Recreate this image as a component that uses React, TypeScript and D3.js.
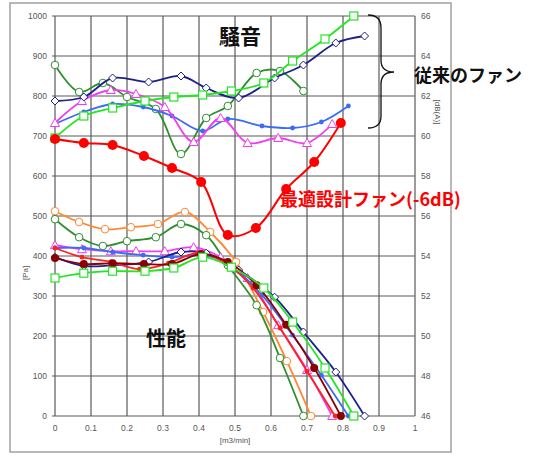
import { scaleLinear, line, curveCatmullRom, range } from 'd3'

// flow [m3/min] tick values
const xTicks = range(0, 11).map(i => i / 10)
const yTicksLeft = range(0, 11).map(i => i * 100)
const yTicksRight = range(46, 67, 2)

// --- noise series (dB(A), right axis) + matching performance (Pa) ---
const limeX = [0, 0.08, 0.16, 0.25, 0.33, 0.41, 0.49, 0.58, 0.66, 0.75, 0.83]
const limeNoise = [59.9, 61, 61.4, 61.75, 61.95, 62.05, 62.25, 62.65, 63.75, 64.85, 66]
const limePerf = [345, 357, 362, 362, 370, 397, 372, 320, 235, 120, 0]

const navyX = [0, 0.08, 0.16, 0.26, 0.35, 0.42, 0.51, 0.61, 0.69, 0.78, 0.86]
const navyNoise = [61.75, 61.95, 62.9, 62.7, 63, 62.4, 61.9, 62.9, 63.55, 64.65, 65]
const navyPerf = [397, 375, 377, 385, 410, 407, 365, 297, 210, 110, 0]

const magentaX = [0, 0.075, 0.155, 0.225, 0.305, 0.385, 0.46, 0.535, 0.62, 0.7, 0.77]
const magentaNoise = [60.65, 61.75, 62.3, 62.1, 61.45, 59.7, 60.9, 59.65, 59.9, 59.65, 60.6]
const magentaPerf = [427, 417, 412, 412, 412, 422, 397, 345, 227, 115, 0]

const blueX = [0, 0.08, 0.16, 0.245, 0.325, 0.41, 0.48, 0.575, 0.66, 0.74, 0.815]
const blueNoise = [60.6, 61.2, 61.6, 61.45, 61.0, 60.25, 60.85, 60.5, 60.4, 60.7, 61.5]
const bluePerf = [420, 420, 410, 402, 397, 402, 382, 302, 202, 102, 0]

const greenX = [0, 0.067, 0.133, 0.2, 0.28, 0.35, 0.42, 0.48, 0.56, 0.625, 0.69]
const greenNoise = [63.55, 62.2, 62.65, 61.95, 61.35, 59.1, 60.9, 61.5, 63.15, 63.25, 62.25]
const greenPerf = [492, 447, 425, 437, 447, 480, 452, 377, 277, 145, 0]

const redX = [0, 0.08, 0.16, 0.247, 0.325, 0.406, 0.48, 0.558, 0.642, 0.72, 0.794]
const redNoise = [59.85, 59.65, 59.55, 59, 58.4, 57.7, 55.05, 55.4, 57.35, 58.7, 60.65]

// --- performance-only series (Pa, left axis) ---
const orangeX = [0, 0.067, 0.139, 0.211, 0.286, 0.361, 0.431, 0.503, 0.578, 0.644, 0.711]
const orangePerf = [512, 485, 467, 472, 480, 510, 460, 385, 260, 137, 0]

const maroonX = [0, 0.08, 0.16, 0.247, 0.325, 0.406, 0.48, 0.56, 0.642, 0.72, 0.794]
const maroonPerf = [395, 380, 382, 380, 380, 405, 385, 327, 228, 120, 0]

const redPerfX = [0, 0.075, 0.155, 0.235, 0.315, 0.395, 0.47, 0.55, 0.625, 0.7, 0.778]
const redPerf = [420, 397, 385, 367, 382, 407, 385, 320, 220, 112, 0]

type Marker = 'square' | 'diamond' | 'triangle' | 'circle' | 'dot' | 'bigdot'

interface Series {
  xs: number[]
  ys: number[]
  color: string
  marker: Marker
  axis: 'left' | 'right'
}

const noiseSeries: Series[] = [
  { xs: greenX, ys: greenNoise, color: '#2f8f2f', marker: 'circle', axis: 'right' },
  { xs: blueX, ys: blueNoise, color: '#3a6cf4', marker: 'dot', axis: 'right' },
  { xs: magentaX, ys: magentaNoise, color: '#f23cf2', marker: 'triangle', axis: 'right' },
  { xs: navyX, ys: navyNoise, color: '#1f1f8c', marker: 'diamond', axis: 'right' },
  { xs: limeX, ys: limeNoise, color: '#22e622', marker: 'square', axis: 'right' },
  { xs: redX, ys: redNoise, color: '#ff0000', marker: 'bigdot', axis: 'right' },
]

const perfSeries: Series[] = [
  { xs: orangeX, ys: orangePerf, color: '#ff8833', marker: 'circle', axis: 'left' },
  { xs: greenX, ys: greenPerf, color: '#2f8f2f', marker: 'circle', axis: 'left' },
  { xs: magentaX, ys: magentaPerf, color: '#f23cf2', marker: 'triangle', axis: 'left' },
  { xs: blueX, ys: bluePerf, color: '#3a6cf4', marker: 'dot', axis: 'left' },
  { xs: navyX, ys: navyPerf, color: '#1f1f8c', marker: 'diamond', axis: 'left' },
  { xs: redPerfX, ys: redPerf, color: '#ff2020', marker: 'dot', axis: 'left' },
  { xs: maroonX, ys: maroonPerf, color: '#8b0000', marker: 'dot', axis: 'left' },
  { xs: limeX, ys: limePerf, color: '#22e622', marker: 'square', axis: 'left' },
]

const tickFont = '"Liberation Sans", Arial, sans-serif'
const jpFont = '"Noto Sans CJK JP", "Noto Sans", sans-serif'

const MarkerShape = ({ kind, cx, cy, color }: { kind: Marker; cx: number; cy: number; color: string }) => {
  switch (kind) {
    case 'square':
      return <rect x={cx - 4} y={cy - 4} width={8} height={8} fill="white" stroke={color} strokeWidth={1.2} />
    case 'diamond':
      return <path d={`M${cx},${cy - 4}L${cx + 4},${cy}L${cx},${cy + 4}L${cx - 4},${cy}Z`} fill="white" stroke={color} strokeWidth={1} />
    case 'triangle':
      return <path d={`M${cx},${cy - 4.5}L${cx + 4.5},${cy + 3.5}L${cx - 4.5},${cy + 3.5}Z`} fill="white" stroke={color} strokeWidth={1} />
    case 'circle':
      return <circle cx={cx} cy={cy} r={3.8} fill="white" stroke={color} strokeWidth={1} />
    case 'bigdot':
      return <circle cx={cx} cy={cy} r={5} fill={color} />
    default:
      return <circle cx={cx} cy={cy} r={color === '#8b0000' ? 4 : 2.4} fill={color} />
  }
}

const App = () => {
  const width = 536
  const height = 455

  const xScale = scaleLinear().domain([0, 1]).range([55, 415])
  const yLeft = scaleLinear().domain([0, 1000]).range([416, 16])
  const yRight = scaleLinear().domain([46, 66]).range([416, 16])

  const drawSeries = (s: Series, key: string) => {
    const yScale = s.axis === 'left' ? yLeft : yRight
    const pts: [number, number][] = s.xs.map((x, i) => [xScale(x), yScale(s.ys[i])])
    const gen = line().curve(curveCatmullRom.alpha(0.5))
    return (
      <g key={key}>
        <path d={gen(pts) || ''} fill="none" stroke={s.color} strokeWidth={s.marker === 'bigdot' ? 2 : 1.8} />
        {pts.map((p, i) => (
          <MarkerShape key={i} kind={s.marker} cx={p[0]} cy={p[1]} color={s.color} />
        ))}
      </g>
    )
  }

  return (
    <svg width={width} height={height} style={{ position: 'absolute', left: 0, top: 0, background: 'white' }}>
      {/* outer frame */}
      <rect x={10} y={3} width={441} height={449} fill="white" stroke="#a0a0a0" strokeWidth={1.5} />

      {/* grid */}
      {xTicks.map(t => (
        <line key={'gx' + t} x1={xScale(t)} x2={xScale(t)} y1={16} y2={416} stroke="#5a5a5a" strokeWidth={1.2} />
      ))}
      {yTicksLeft.map(t => (
        <line key={'gy' + t} x1={52} x2={415} y1={yLeft(t)} y2={yLeft(t)} stroke="#5a5a5a" strokeWidth={1.2} />
      ))}

      {/* left tick labels */}
      {yTicksLeft.map(t => (
        <text key={'ly' + t} x={47} y={yLeft(t) + 3} textAnchor="end" fontSize={8.5} fill="#555" fontFamily={tickFont}>
          {t}
        </text>
      ))}
      {/* right tick labels */}
      {yTicksRight.map(t => (
        <text key={'ry' + t} x={421} y={yRight(t) + 3} fontSize={8.5} fill="#555" fontFamily={tickFont}>
          {t}
        </text>
      ))}
      {/* x tick labels */}
      {xTicks.map(t => (
        <text key={'lx' + t} x={xScale(t)} y={431} textAnchor="middle" fontSize={8.5} fill="#555" fontFamily={tickFont}>
          {t}
        </text>
      ))}

      <text x={235} y={443} textAnchor="middle" fontSize={8} fill="#555" fontFamily={tickFont}>[m3/min]</text>
      <text transform="translate(28,273) rotate(-90)" textAnchor="middle" fontSize={8} fill="#555" fontFamily={tickFont}>[Pa]</text>
      <text transform="translate(435,112) rotate(90)" textAnchor="middle" fontSize={8} fill="#555" fontFamily={tickFont}>[dB(A)]</text>

      {/* performance curves */}
      {perfSeries.map((s, i) => drawSeries(s, 'p' + i))}
      {/* noise curves */}
      {noiseSeries.map((s, i) => drawSeries(s, 'n' + i))}

      {/* brace for conventional fans */}
      <path
        d="M368,15 Q381,15 381,28 L381,60 Q381,72 394,72 Q381,72 381,84 L381,116 Q381,128 368,128"
        fill="none"
        stroke="#111"
        strokeWidth={1.3}
      />

      {/* annotations */}
      <text x={240} y={44} textAnchor="middle" fontSize={21} fontWeight="bold" fill="#111" fontFamily={jpFont}>騒音</text>
      <text x={414} y={82} fontSize={18} fontWeight="bold" fill="#111" fontFamily={jpFont}>従来のファン</text>
      <text x={280} y={206} fontSize={18} fontWeight="bold" fill="#ff0000" fontFamily={jpFont}>最適設計ファン(-6dB)</text>
      <text x={166} y={346} textAnchor="middle" fontSize={20} fontWeight="bold" fill="#111" fontFamily={jpFont}>性能</text>
    </svg>
  )
}

export default App
